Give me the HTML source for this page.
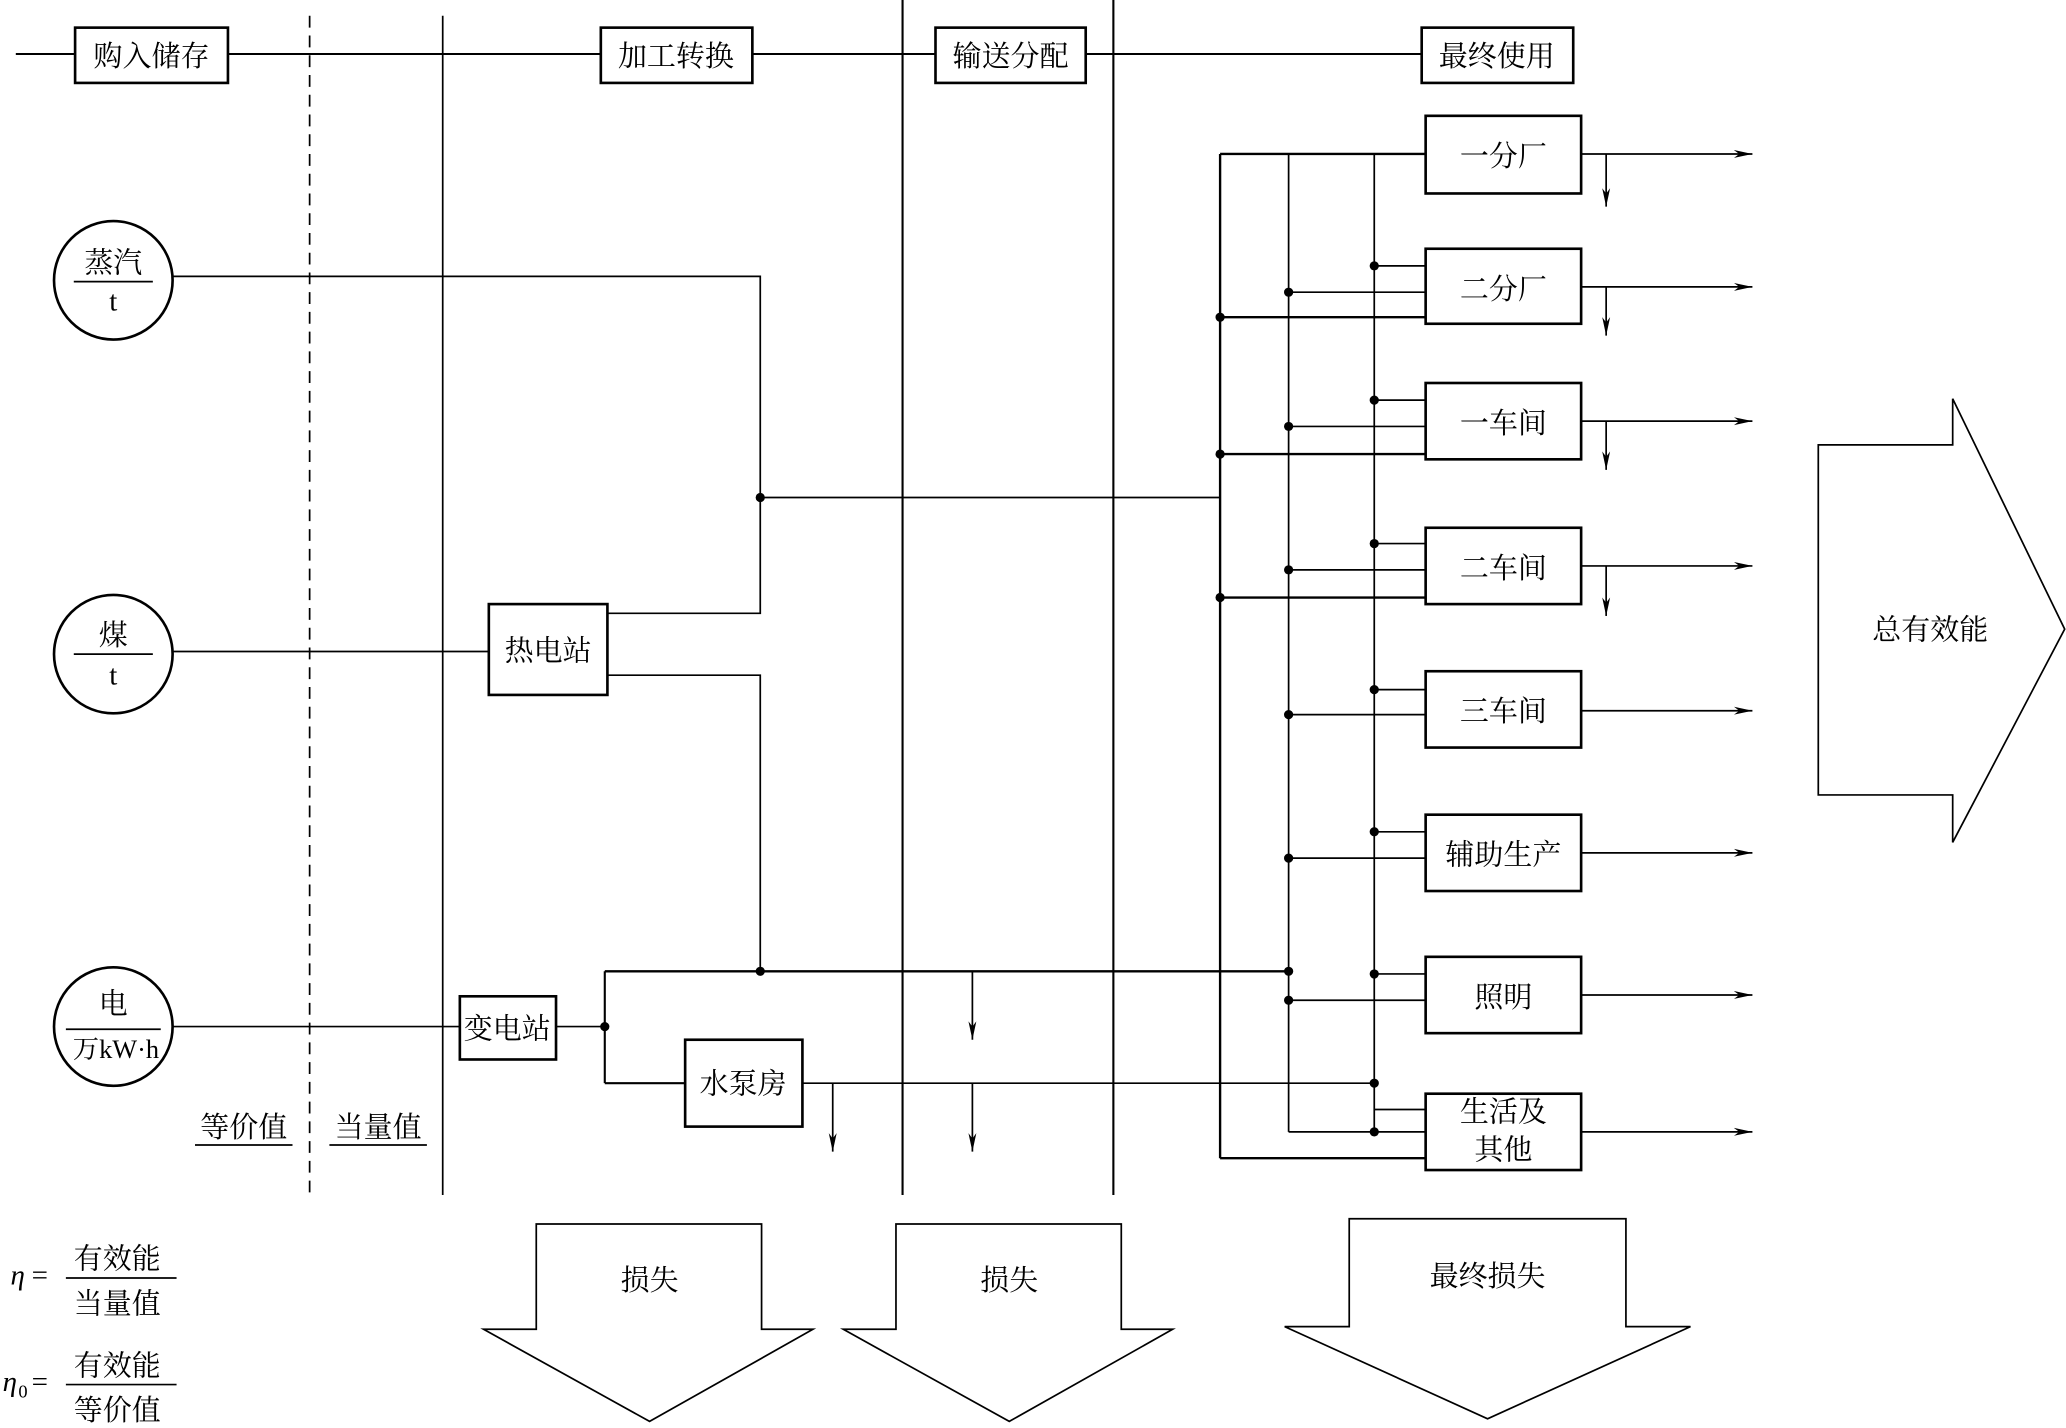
<!DOCTYPE html>
<html><head><meta charset="utf-8"><style>
html,body{margin:0;padding:0;background:#fff;}
svg{display:block;}
text{font-family:"Liberation Serif","Noto Serif CJK SC","Noto Sans CJK SC",serif;font-size:22px;fill:#000;}
</style></head><body>
<svg width="2066" height="1428" viewBox="0 0 1568 1085" preserveAspectRatio="none" xmlns="http://www.w3.org/2000/svg">
<defs>
<marker id="ah" markerWidth="14" markerHeight="8" refX="14" refY="4" orient="auto" markerUnits="userSpaceOnUse"><path d="M0,1 L14,4 L0,7 L4,4 Z" fill="#000"/></marker>
</defs>
<g stroke="#000" fill="none" stroke-width="1.3">
<!-- top line -->
<line x1="12" y1="41" x2="1080" y2="41" stroke-width="1.5"/>
<rect x="57" y="21" width="116" height="42" fill="#fff" stroke-width="2"/>
<rect x="456" y="21" width="115" height="42" fill="#fff" stroke-width="2"/>
<rect x="710" y="21" width="114" height="42" fill="#fff" stroke-width="2"/>
<rect x="1079" y="21" width="115" height="42" fill="#fff" stroke-width="2"/>
<!-- verticals -->
<line x1="235" y1="12" x2="235" y2="908" stroke-dasharray="9,6"/>
<line x1="336" y1="12" x2="336" y2="908"/>
<line x1="685" y1="0" x2="685" y2="908" stroke-width="1.6"/>
<line x1="845" y1="0" x2="845" y2="908" stroke-width="1.6"/>
<!-- circles -->
<circle cx="86" cy="213" r="45" stroke-width="2"/>
<circle cx="86" cy="497" r="45" stroke-width="2"/>
<circle cx="86" cy="780" r="45" stroke-width="2"/>
<line x1="56" y1="214" x2="116" y2="214"/>
<line x1="56" y1="497" x2="116" y2="497"/>
<line x1="50" y1="782" x2="122" y2="782"/>
<!-- steam -->
<polyline points="131,210 577,210 577,466 461,466"/>
<line x1="577" y1="378" x2="926" y2="378"/>
<!-- coal -->
<line x1="131" y1="495" x2="371" y2="495"/>
<rect x="371" y="459" width="90" height="69" fill="#fff" stroke-width="2"/>
<polyline points="461,513 577,513 577,738"/>
<line x1="459" y1="738" x2="978" y2="738" stroke-width="1.8"/>
<!-- elec -->
<line x1="131" y1="780" x2="349" y2="780"/>
<rect x="349" y="757" width="73" height="48" fill="#fff" stroke-width="2"/>
<line x1="422" y1="780" x2="459" y2="780"/>
<line x1="459" y1="738" x2="459" y2="823" stroke-width="1.6"/>
<line x1="459" y1="823" x2="520" y2="823" stroke-width="1.6"/>
<rect x="520" y="790" width="89" height="66" fill="#fff" stroke-width="2"/>
<line x1="609" y1="823" x2="1043" y2="823"/>
<line x1="738" y1="738" x2="738" y2="790" marker-end="url(#ah)"/>
<line x1="738" y1="823" x2="738" y2="875" marker-end="url(#ah)"/>
<line x1="632" y1="823" x2="632" y2="875" marker-end="url(#ah)"/>
<!-- buses -->
<line x1="926" y1="117" x2="926" y2="880" stroke-width="1.8"/>
<line x1="978" y1="117" x2="978" y2="860"/>
<line x1="1043" y1="117" x2="1043" y2="860"/>
<line x1="926" y1="117" x2="1082" y2="117" stroke-width="1.8"/>
<line x1="926" y1="880" x2="1082" y2="880" stroke-width="1.8"/>
<line x1="978" y1="860" x2="1082" y2="860"/>
<!-- feeds -->
<line x1="1043" y1="202" x2="1082" y2="202"/><line x1="978" y1="222" x2="1082" y2="222"/><line x1="926" y1="241" x2="1082" y2="241" stroke-width="1.8"/>
<line x1="1043" y1="304" x2="1082" y2="304"/><line x1="978" y1="324" x2="1082" y2="324"/><line x1="926" y1="345" x2="1082" y2="345" stroke-width="1.8"/>
<line x1="1043" y1="413" x2="1082" y2="413"/><line x1="978" y1="433" x2="1082" y2="433"/><line x1="926" y1="454" x2="1082" y2="454" stroke-width="1.8"/>
<line x1="1043" y1="524" x2="1082" y2="524"/><line x1="978" y1="543" x2="1082" y2="543"/>
<line x1="1043" y1="632" x2="1082" y2="632"/><line x1="978" y1="652" x2="1082" y2="652"/>
<line x1="1043" y1="740" x2="1082" y2="740"/><line x1="978" y1="760" x2="1082" y2="760"/>
<line x1="1043" y1="843" x2="1082" y2="843"/>
<!-- boxes -->
<rect x="1082" y="88" width="118" height="59" fill="#fff" stroke-width="2"/>
<rect x="1082" y="189" width="118" height="57" fill="#fff" stroke-width="2"/>
<rect x="1082" y="291" width="118" height="58" fill="#fff" stroke-width="2"/>
<rect x="1082" y="401" width="118" height="58" fill="#fff" stroke-width="2"/>
<rect x="1082" y="510" width="118" height="58" fill="#fff" stroke-width="2"/>
<rect x="1082" y="619" width="118" height="58" fill="#fff" stroke-width="2"/>
<rect x="1082" y="727" width="118" height="58" fill="#fff" stroke-width="2"/>
<rect x="1082" y="831" width="118" height="58" fill="#fff" stroke-width="2"/>
<!-- outputs -->
<line x1="1200" y1="117" x2="1330" y2="117" marker-end="url(#ah)"/>
<line x1="1200" y1="218" x2="1330" y2="218" marker-end="url(#ah)"/>
<line x1="1200" y1="320" x2="1330" y2="320" marker-end="url(#ah)"/>
<line x1="1200" y1="430" x2="1330" y2="430" marker-end="url(#ah)"/>
<line x1="1200" y1="540" x2="1330" y2="540" marker-end="url(#ah)"/>
<line x1="1200" y1="648" x2="1330" y2="648" marker-end="url(#ah)"/>
<line x1="1200" y1="756" x2="1330" y2="756" marker-end="url(#ah)"/>
<line x1="1200" y1="860" x2="1330" y2="860" marker-end="url(#ah)"/>
<line x1="1219" y1="117" x2="1219" y2="157" marker-end="url(#ah)"/>
<line x1="1219" y1="218" x2="1219" y2="255" marker-end="url(#ah)"/>
<line x1="1219" y1="320" x2="1219" y2="357" marker-end="url(#ah)"/>
<line x1="1219" y1="430" x2="1219" y2="468" marker-end="url(#ah)"/>
<!-- big arrows -->
<polygon points="1380,338 1482,338 1482,303 1567,478 1482,640 1482,604 1380,604"/>
<polygon points="407,930 578,930 578,1010 617,1010 493,1080 367,1010 407,1010"/>
<polygon points="680,930 851,930 851,1010 890,1010 766,1080 640,1010 680,1010"/>
<polygon points="1024,926 1234,926 1234,1008 1283,1008 1129,1078 975,1008 1024,1008"/>
<!-- underlines -->
<line x1="148" y1="870" x2="222" y2="870"/>
<line x1="250" y1="870" x2="324" y2="870"/>
<line x1="50" y1="971" x2="134" y2="971"/>
<line x1="50" y1="1052" x2="134" y2="1052"/>
</g>
<g fill="#000">
<circle cx="577" cy="378" r="3.5"/><circle cx="577" cy="738" r="3.5"/><circle cx="459" cy="780" r="3.5"/>
<circle cx="978" cy="738" r="3.5"/><circle cx="1043" cy="823" r="3.5"/>
<circle cx="1043" cy="202" r="3.5"/><circle cx="978" cy="222" r="3.5"/><circle cx="926" cy="241" r="3.5"/>
<circle cx="1043" cy="304" r="3.5"/><circle cx="978" cy="324" r="3.5"/><circle cx="926" cy="345" r="3.5"/>
<circle cx="1043" cy="413" r="3.5"/><circle cx="978" cy="433" r="3.5"/><circle cx="926" cy="454" r="3.5"/>
<circle cx="1043" cy="524" r="3.5"/><circle cx="978" cy="543" r="3.5"/>
<circle cx="1043" cy="632" r="3.5"/><circle cx="978" cy="652" r="3.5"/>
<circle cx="1043" cy="740" r="3.5"/><circle cx="978" cy="760" r="3.5"/>
<circle cx="1043" cy="860" r="3.5"/>
</g>
<g text-anchor="middle">
<text x="115" y="50">购入储存</text>
<text x="513" y="50">加工转换</text>
<text x="767" y="50">输送分配</text>
<text x="1136" y="50">最终使用</text>
<text x="86" y="207">蒸汽</text><text x="86" y="236">t</text>
<text x="86" y="490">煤</text><text x="86" y="520">t</text>
<text x="86" y="770">电</text><text x="88" y="804" style="font-size:20px">万kW·h</text>
<text x="416" y="502">热电站</text>
<text x="385" y="789">变电站</text>
<text x="564" y="831">水泵房</text>
<text x="1141" y="126">一分厂</text>
<text x="1141" y="227">二分厂</text>
<text x="1141" y="329">一车间</text>
<text x="1141" y="439">二车间</text>
<text x="1141" y="548">三车间</text>
<text x="1141" y="657">辅助生产</text>
<text x="1141" y="765">照明</text>
<text x="1141" y="852">生活及</text><text x="1141" y="881">其他</text>
<text x="1465" y="486">总有效能</text>
<text x="493" y="980">损失</text>
<text x="766" y="980">损失</text>
<text x="1129" y="977">最终损失</text>
<text x="185" y="864">等价值</text>
<text x="287" y="864">当量值</text>
<text x="89" y="964">有效能</text><text x="89" y="998">当量值</text>
<text x="89" y="1045">有效能</text><text x="89" y="1079">等价值</text>
</g>
<text x="8" y="976" style="font-style:italic">η</text><text x="24" y="976">=</text>
<text x="2" y="1057" style="font-style:italic">η</text><text x="14" y="1062" style="font-size:14px">0</text><text x="24" y="1057">=</text>
</svg>
</body></html>
